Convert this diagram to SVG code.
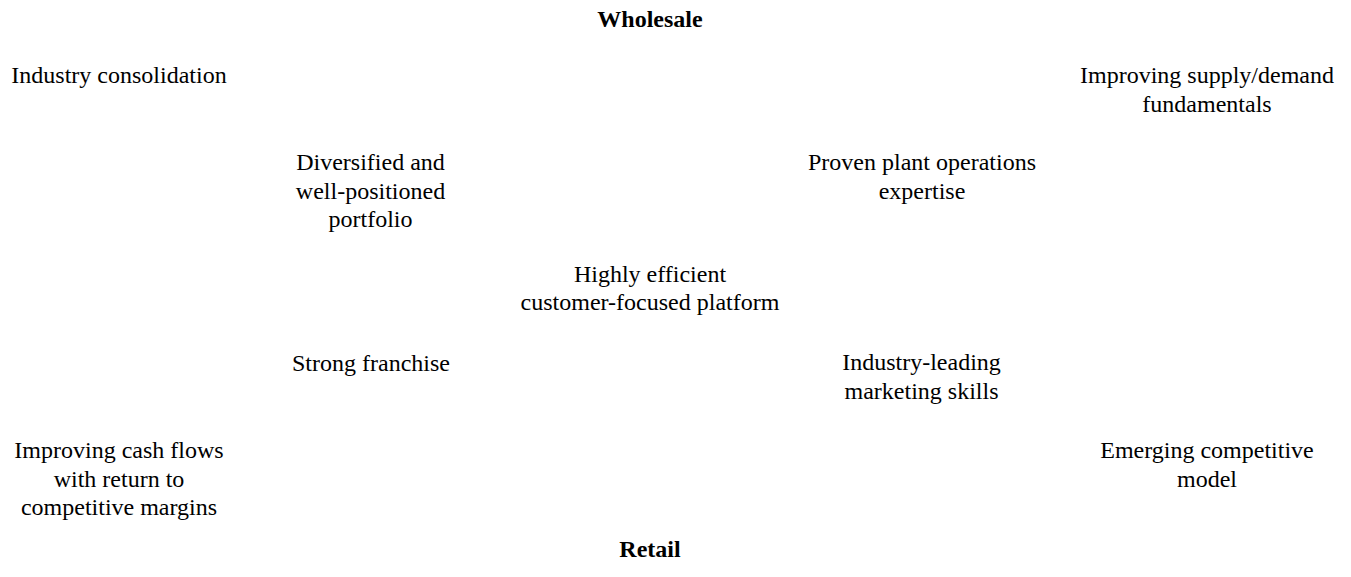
<svg xmlns="http://www.w3.org/2000/svg" width="1351" height="577" viewBox="0 0 1351 577">
<style>
text{font-family:"Liberation Serif","Times New Roman",serif;font-size:24px;fill:#000;text-anchor:middle}
.b{font-weight:bold}
</style>
<rect width="1351" height="577" fill="#fff"/>
<g id="connectors"/>
<g id="wholesale"><text class="b" x="650" y="27">Wholesale</text></g>
<g id="industry-consolidation"><text x="119" y="83">Industry consolidation</text></g>
<g id="supply-demand"><text x="1207" y="83">Improving supply/demand</text><text x="1207" y="111.8">fundamentals</text></g>
<g id="diversified"><text x="370.5" y="169.8">Diversified and</text><text x="370.5" y="198.6">well-positioned</text><text x="370.5" y="227.4">portfolio</text></g>
<g id="plant-ops"><text x="922" y="169.8">Proven plant operations</text><text x="922" y="198.6">expertise</text></g>
<g id="platform"><text x="650" y="281.5">Highly efficient</text><text x="650" y="310.3">customer-focused platform</text></g>
<g id="franchise"><text x="371" y="370.8">Strong franchise</text></g>
<g id="marketing"><text x="921.5" y="370">Industry-leading</text><text x="921.5" y="398.8">marketing skills</text></g>
<g id="cash-flows"><text x="119" y="457.8">Improving cash flows</text><text x="119" y="486.6">with return to</text><text x="119" y="515.4">competitive margins</text></g>
<g id="competitive-model"><text x="1207" y="457.8">Emerging competitive</text><text x="1207" y="486.6">model</text></g>
<g id="retail"><text class="b" x="650" y="557">Retail</text></g>
</svg>
